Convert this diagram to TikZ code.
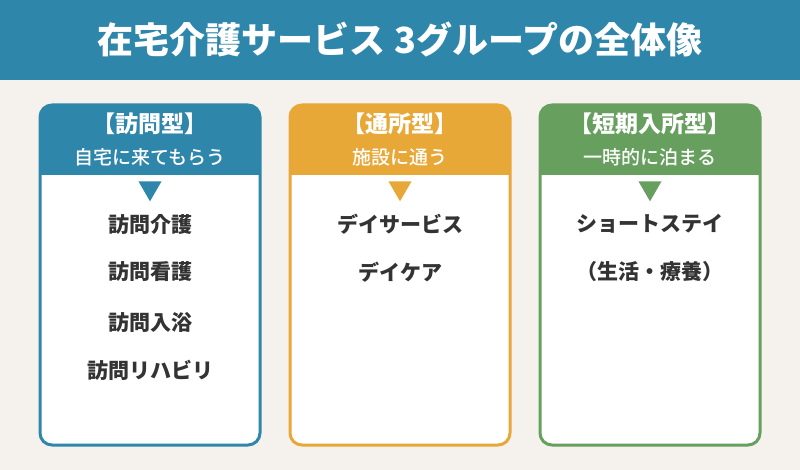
\documentclass[tikz,border=0pt]{standalone}
\usepackage{fontspec}
\setmainfont{Noto Sans CJK JP}
\newfontfamily\jpmedium{Noto Sans CJK JP Medium}
\usetikzlibrary{shapes.geometric}

\definecolor{kaigoblue}{HTML}{2E86AB}
\definecolor{kaigoorange}{HTML}{E8A838}
\definecolor{kaigogreen}{HTML}{679F5F}
\definecolor{bgbeige}{HTML}{F5F2EE}
\definecolor{textgray}{HTML}{333333}

\tikzset{
    titletext/.style={text=white, font=\fontsize{36}{40}\selectfont\bfseries, inner sep=0pt},
    headtext/.style={text=white, font=\fontsize{23}{26}\selectfont\bfseries, inner sep=0pt},
    subtext/.style={text=white, font=\fontsize{19}{21}\selectfont\jpmedium, inner sep=0pt},
    itemtext/.style={text=textgray, font=\fontsize{21}{23}\selectfont\bfseries, inner sep=0pt},
    marker/.style={regular polygon, regular polygon sides=3, shape border rotate=180,
        minimum size=26.6pt, inner sep=0pt},
    card/.style={rounded corners=12pt, line width=3pt}
}

\begin{document}
\begin{tikzpicture}[x=1pt,y=-1pt]

% 背景とタイトル
\fill[bgbeige] (0,0) rectangle (800,470);
\useasboundingbox (0,0) rectangle (800,470);
\fill[kaigoblue] (0,0) rectangle (800,80);
\node[titletext] (title) at (400,39) {在宅介護サービス 3グループの全体像};

% カード(見出し部分)
\foreach \i/\x/\col/\head/\sub in {
    1/150/kaigoblue/{【訪問型】}/{自宅に来てもらう},
    2/400/kaigoorange/{【通所型】}/{施設に通う},
    3/650/kaigogreen/{【短期入所型】}/{一時的に泊まる}} {
    \begin{scope}
        \clip[rounded corners=12pt] (\x-110,105) rectangle (\x+110,445);
        \fill[white] (\x-110,105) rectangle (\x+110,445);
        \fill[\col] (\x-110,105) rectangle (\x+110,175);
    \end{scope}
    \draw[card, draw=\col] (\x-110,105) rectangle (\x+110,445);
    \node[headtext] (head\i) at (\x,124) {\head};
    \node[subtext] (sub\i) at (\x,157) {\sub};
    \node[marker, fill=\col] (mark\i) at (\x,188) {};
}

% 訪問型の項目
\foreach \n/\y/\text in {
    1/224/{訪問介護},
    2/272/{訪問看護},
    3/322/{訪問入浴},
    4/370/{訪問リハビリ}} {
    \node[itemtext] (item1\n) at (150,\y) {\text};
}

% 通所型の項目
\foreach \n/\y/\text in {
    1/224/{デイサービス},
    2/272/{デイケア}} {
    \node[itemtext] (item2\n) at (400,\y) {\text};
}

% 短期入所型の項目
\foreach \n/\y/\text in {
    1/224/{ショートステイ},
    2/272/{（生活・療養）}} {
    \node[itemtext] (item3\n) at (650,\y) {\text};
}

\end{tikzpicture}
\end{document}
